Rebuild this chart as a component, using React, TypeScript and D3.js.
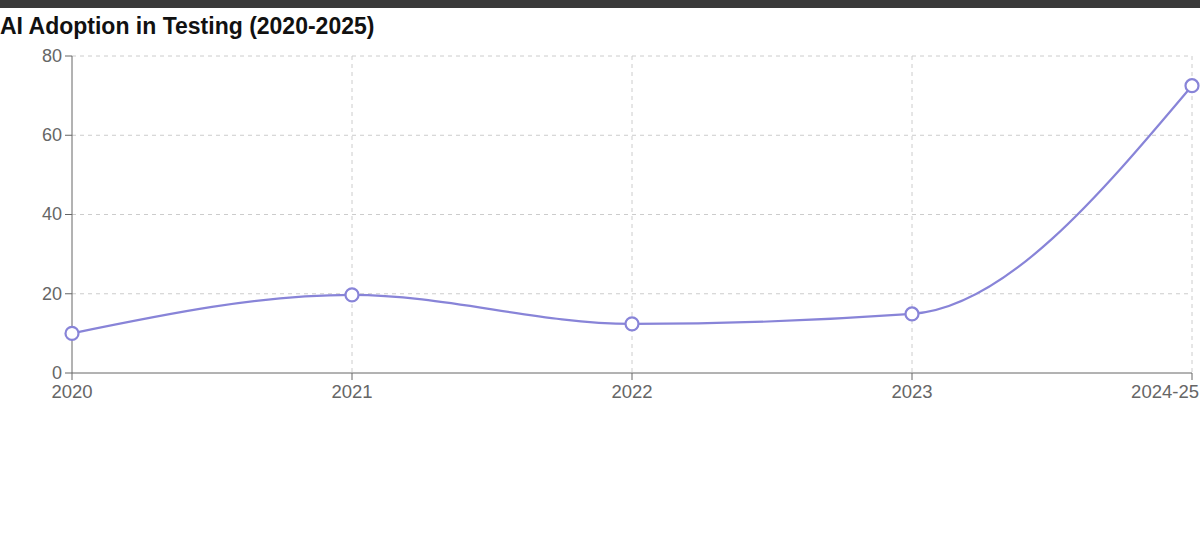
import * as d3 from "d3";

const categories = ["2020", "2021", "2022", "2023", "2024-25"];
const adoption = [10, 19.7, 12.4, 14.9, 72.5];
const yTicks = [0, 20, 40, 60, 80];

const W = 1200, H = 554;
const M = { left: 72, right: 8, top: 56, bottom: 181 };
const LINE = "#8884d8";
const AXIS = "#666";
const FONT = "'Liberation Sans', Arial, sans-serif";

export default function App() {
  const x = d3.scalePoint<string>().domain(categories).range([M.left, W - M.right]);
  const y = d3.scaleLinear().domain([0, 80]).range([H - M.bottom, M.top]);
  const line = d3
    .line<number>()
    .x((_, i) => x(categories[i]) as number)
    .y((v) => y(v))
    .curve(d3.curveMonotoneX);
  const y0 = y(0);
  const last = categories[categories.length - 1];

  return (
    <svg width={W} height={H} style={{ position: "absolute", left: 0, top: 0, background: "#fff", display: "block" }}>
      <rect x={0} y={0} width={W} height={8} fill="#3a3a3a" />
      <text x={0} y={34} fontFamily={FONT} fontWeight={700} fontSize={23} fill="#111">
        AI Adoption in Testing (2020-2025)
      </text>

      {/* grid */}
      <g stroke="#ccc" strokeDasharray="4 4" strokeWidth={1}>
        {yTicks.filter((t) => t > 0).map((t) => (
          <line key={t} x1={M.left} x2={W - M.right} y1={y(t)} y2={y(t)} />
        ))}
        {categories.slice(1).map((c) => (
          <line key={c} x1={x(c)} x2={x(c)} y1={M.top} y2={y0} />
        ))}
      </g>

      {/* y axis */}
      <line x1={M.left} x2={M.left} y1={M.top} y2={y0} stroke={AXIS} />
      {yTicks.map((t) => (
        <g key={t}>
          <line x1={M.left - 7} x2={M.left} y1={y(t)} y2={y(t)} stroke={AXIS} />
          <text x={M.left - 10} y={y(t)} dy="0.33em" textAnchor="end" fontFamily={FONT} fontSize={18} fill={AXIS}>
            {t}
          </text>
        </g>
      ))}

      {/* x axis */}
      <line x1={M.left} x2={W - M.right} y1={y0} y2={y0} stroke={AXIS} />
      {categories.map((c) => (
        <g key={c}>
          <line x1={x(c)} x2={x(c)} y1={y0} y2={y0 + 7} stroke={AXIS} />
          <text
            x={c === last ? W - 1 : x(c)}
            y={y0 + 25}
            textAnchor={c === last ? "end" : "middle"}
            fontFamily={FONT}
            fontSize={18.5}
            fill={AXIS}
          >
            {c}
          </text>
        </g>
      ))}

      <path d={line(adoption) ?? ""} fill="none" stroke={LINE} strokeWidth={2.2} />
      {adoption.map((v, i) => (
        <circle key={i} cx={x(categories[i])} cy={y(v)} r={6.5} fill="#fff" stroke={LINE} strokeWidth={2.2} />
      ))}
    </svg>
  );
}
